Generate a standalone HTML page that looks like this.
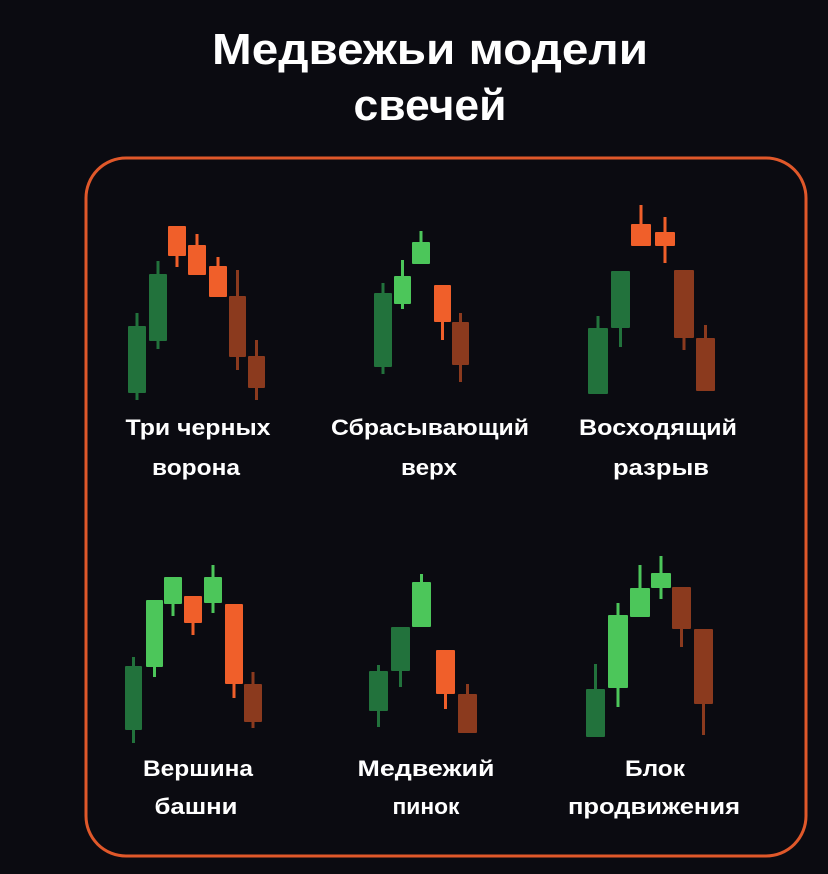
<!DOCTYPE html>
<html><head><meta charset="utf-8"><style>
html,body{margin:0;padding:0;background:#0b0b11;width:828px;height:874px;overflow:hidden}
</style></head><body>
<svg width="828" height="874" viewBox="0 0 828 874" xmlns="http://www.w3.org/2000/svg" font-family="'Liberation Sans', sans-serif" font-weight="bold">
<rect width="828" height="874" fill="#0b0b11"/>
<text x="430" y="64" fill="#fff" font-size="44" text-anchor="middle" textLength="436" lengthAdjust="spacingAndGlyphs">Медвежьи модели</text>
<text x="430" y="120" fill="#fff" font-size="44" text-anchor="middle" textLength="153" lengthAdjust="spacingAndGlyphs">свечей</text>
<rect x="86" y="158" width="720" height="698" rx="40" fill="none" stroke="#e0582a" stroke-width="3"/>
<g id="c"></g>
<g fill="#fff" font-size="22" text-anchor="middle">
<text x="198" y="435" textLength="145" lengthAdjust="spacingAndGlyphs">Три черных</text>
<text x="196" y="475" textLength="88" lengthAdjust="spacingAndGlyphs">ворона</text>
<text x="430" y="435" textLength="198" lengthAdjust="spacingAndGlyphs">Сбрасывающий</text>
<text x="429" y="475" textLength="56" lengthAdjust="spacingAndGlyphs">верх</text>
<text x="658" y="435" textLength="158" lengthAdjust="spacingAndGlyphs">Восходящий</text>
<text x="661" y="475" textLength="96" lengthAdjust="spacingAndGlyphs">разрыв</text>
<text x="198" y="776" textLength="110" lengthAdjust="spacingAndGlyphs">Вершина</text>
<text x="196" y="814" textLength="83" lengthAdjust="spacingAndGlyphs">башни</text>
<text x="426" y="776" textLength="137" lengthAdjust="spacingAndGlyphs">Медвежий</text>
<text x="426" y="814" textLength="67" lengthAdjust="spacingAndGlyphs">пинок</text>
<text x="655" y="776" textLength="60" lengthAdjust="spacingAndGlyphs">Блок</text>
<text x="654" y="814" textLength="172" lengthAdjust="spacingAndGlyphs">продвижения</text>
</g>
</svg>
<script>
var G="#22723c",L="#4cc65a",O="#f05f2a",B="#8b3a1e";
var C=[
[128,18,326,393,313,400,G],[149,18,274,341,261,349,G],[168,18,226,256,226,267,O],[188,18,245,275,234,275,O],[209,18,266,297,257,297,O],[229,17,296,357,270,370,B],[248,17,356,388,340,400,B],
[374,18,293,367,283,374,G],[394,17,276,304,260,309,L],[412,18,242,264,231,264,L],[434,17,285,322,285,340,O],[452,17,322,365,313,382,B],
[588,20,328,394,316,394,G],[611,19,271,328,271,347,G],[631,20,224,246,205,246,O],[655,20,232,246,217,263,O],[674,20,270,338,270,350,B],[696,19,338,391,325,391,B],
[125,17,666,730,657,743,G],[146,17,600,667,600,677,L],[164,18,577,604,577,616,L],[184,18,596,623,596,635,O],[204,18,577,603,565,613,L],[225,18,604,684,604,698,O],[244,18,684,722,672,728,B],
[369,19,671,711,665,727,G],[391,19,627,671,627,687,G],[412,19,582,627,574,627,L],[436,19,650,694,650,709,O],[458,19,694,733,684,733,B],
[586,19,689,737,664,737,G],[608,20,615,688,603,707,L],[630,20,588,617,565,617,L],[651,20,573,588,556,599,L],[672,19,587,629,587,647,B],[694,19,629,704,629,735,B]
];
var s="";
C.forEach(function(c){var cx=c[0]+c[1]/2;
s+='<rect x="'+(cx-1.5)+'" y="'+c[4]+'" width="3" height="'+(c[5]-c[4])+'" fill="'+c[6]+'"/>';
s+='<rect x="'+c[0]+'" y="'+c[2]+'" width="'+c[1]+'" height="'+(c[3]-c[2])+'" fill="'+c[6]+'" rx="1"/>';});
document.getElementById("c").innerHTML=s;
</script>
</body></html>
